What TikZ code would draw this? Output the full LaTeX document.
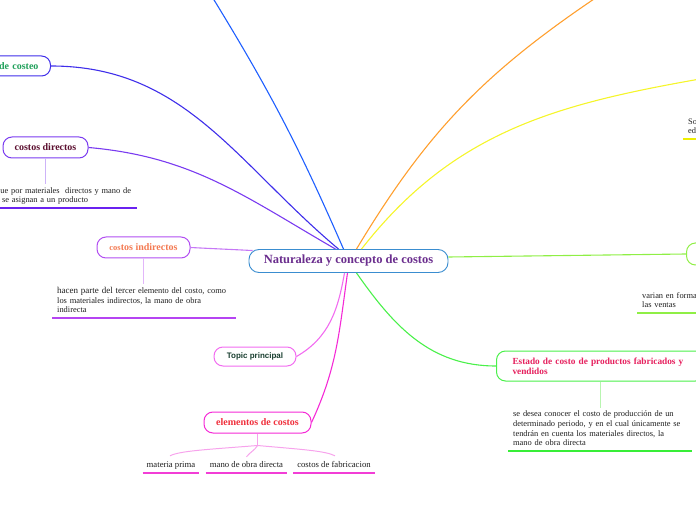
\documentclass[tikz,border=0pt]{standalone}
\usepackage{fontspec}
\setmainfont{Liberation Serif}
\setsansfont{Liberation Sans}
\usetikzlibrary{calc}
\definecolor{rootblue}{HTML}{3A8DD0}
\definecolor{rootpurple}{HTML}{6B2E8E}
\definecolor{ink}{HTML}{1E1E1E}
\definecolor{cbl}{HTML}{3F2EEA}
\definecolor{cgreen}{HTML}{1FA05A}
\definecolor{cblue}{HTML}{1F5FFF}
\definecolor{cvio}{HTML}{7A3BF0}
\definecolor{cmaroon}{HTML}{5C1030}
\definecolor{dstem}{HTML}{CDB3F8}
\definecolor{dline}{HTML}{6A22F0}
\definecolor{cpur}{HTML}{B24EF2}
\definecolor{cpurl}{HTML}{C678F6}
\definecolor{corange}{HTML}{F47A52}
\definecolor{istem}{HTML}{E2B6FA}
\definecolor{iline}{HTML}{B544F2}
\definecolor{cpink}{HTML}{F26CF0}
\definecolor{cdkgreen}{HTML}{173D2E}
\definecolor{cmag}{HTML}{F52AD6}
\definecolor{cred}{HTML}{F0303C}
\definecolor{cpinkl}{HTML}{F7A3EC}
\definecolor{mline}{HTML}{F23ED6}
\definecolor{corg}{HTML}{FF9F2E}
\definecolor{cyel}{HTML}{F5F52A}
\definecolor{yline}{HTML}{EEEE00}
\definecolor{clime}{HTML}{8FEF45}
\definecolor{cgreen2}{HTML}{4AF04A}
\definecolor{ccrimson}{HTML}{E6205E}
\definecolor{estem}{HTML}{B8F5B0}
\definecolor{gline}{HTML}{38EE38}

\begin{document}
\begin{tikzpicture}[x=1pt, y=1pt,
  root/.style={draw=rootblue, line width=0.9pt, rounded corners=10pt, fill=white, minimum width=199pt, minimum height=23pt, inner sep=2pt, text=rootpurple, font=\fontsize{12.5}{14}\selectfont\bfseries},
  sub/.style={draw, line width=1pt, rounded corners=9pt, fill=white, minimum height=21pt, inner sep=2pt, font=\fontsize{10}{10.5}\selectfont\bfseries},
  note/.style={align=left, inner xsep=5pt, inner ysep=2pt, text=ink, font=\fontsize{8.4}{9.7}\selectfont},
  leaf/.style={note, inner xsep=4pt, font=\fontsize{8.7}{9.8}\selectfont},
  branch/.style={line width=1.1pt},
  stem/.style={line width=1pt},
  uline/.style={line width=1.8pt}]
\useasboundingbox (0,0) rectangle (696,520);
\node[root] (root) at (348.5,259) {Naturaleza y concepto de costos};
\node[sub, draw=cbl, text=cgreen, anchor=east, text width=70pt, align=right, inner xsep=12pt, minimum height=20pt] (costeo) at (51,454) {de costeo};
\node[sub, draw=cvio, text=cmaroon, minimum width=85pt] (directos) at (45.5,372.5) {costos directos};
\node[sub, draw=cpur, text=corange, minimum width=93pt] (indirectos) at (143.5,272.5) {{\fontsize{8.5}{10}\selectfont cos}tos indirectos};
\node[sub, draw=cpink, text=cdkgreen, minimum width=82pt, minimum height=19pt, font=\sffamily\fontsize{8}{9}\selectfont\bfseries] (topic) at (255,163.5) {Topic principal};
\node[sub, draw=cmag, text=cred, minimum width=107pt] (elementos) at (257.5,97.5) {elementos de costos};
\node[sub, draw=cgreen2, text=ccrimson, anchor=west, minimum height=30pt, text width=176pt, align=left, inner xsep=16pt, font=\fontsize{9.3}{10.2}\selectfont\bfseries] (estado) at (496,154) {\mbox{Estado de costo de productos fabricados y}\\vendidos};
\node[sub, draw=clime, anchor=west, minimum width=40pt, minimum height=22pt] (variables) at (686,266) {};
\node[note, anchor=south west, text width=136pt] (dnota) at (-9,312) {\strut\mbox{que por materiales~ directos y mano de}\\\hspace*{6pt}se asignan a un producto\strut};
\node[note, anchor=south west, text width=174pt] (inota) at (52,202) {\strut\mbox{{\fontsize{9}{9.7}\selectfont hacen parte del ter}cer elemento del costo, como}\\los materiales indirectos, la mano de obra\\indirecta\strut};
\node[note, anchor=south west, text width=174pt] (enota) at (508,69) {\strut\mbox{se desea conocer el costo de producción de un}\\\mbox{determinado periodo, y en el cual únicamente se}\\tendrán en cuenta los materiales directos, la\\mano de obra directa\strut};
\node[note, anchor=south west, text width=70pt] (vnota) at (637,207) {\strut varian en forma\\las ventas\strut};
\node[note, anchor=south west, text width=30pt] (snota) at (683,381) {\strut So\\ed\strut};
\node[leaf, anchor=south] (materia) at (171,47) {\strut materia prima};
\node[leaf, anchor=south] (mano) at (246.5,47) {\strut mano de obra directa};
\node[leaf, anchor=south] (fabric) at (334,47) {\strut costos de fabricacion};
\coordinate (azul) at (211,525);
\coordinate (naranja) at (597,523);
\coordinate (amarillo) at (700,441);
\draw[branch, cblue] ($(root.north)+(-5,0)$) to[bend right=4] (azul);
\draw[branch, cbl] (costeo.east) to[out=0, in=140] ($(root.north)+(-10,0)$);
\draw[branch, cvio] (directos.east) to[out=-5, in=150] ($(root.north)+(-13,0)$);
\draw[branch, cpurl] (indirectos.east) to[out=-3, in=177] ($(root.north west)+(4,-1.5)$);
\draw[branch, corg] ($(root.north)+(8,0)$) to[out=59, in=214] (naranja);
\draw[branch, cyel] ($(root.north)+(13,0)$) to[out=52, in=190] (amarillo);
\draw[branch, clime] ($(root.east)+(0,4)$) -- (variables.west);
\draw[branch, cgreen2] ($(root.south)+(8,0)$) to[out=-55, in=180] (estado.west);
\draw[branch, cpink] ($(root.south)+(-4,0)$) to[out=260, in=30] (topic.east);
\draw[branch, cmag] ($(root.south)+(-1,0)$) to[out=262, in=65] (elementos.east);
\draw[stem, dstem] (directos.south) -- (directos.south |- dnota.north);
\draw[stem, istem] (indirectos.south) -- (indirectos.south |- inota.north);
\draw[stem, estem] (estado.south) -- (estado.south |- enota.north);
\draw[stem, cpinkl] (elementos.south) -- ++(0,-12) coordinate (split);
\draw[stem, cpinkl] (split) .. controls +(-50,-4) and +(10,5) .. ($(materia.north)+(-1,3)$);
\draw[stem, cpinkl] (split) .. controls +(-3,-5) and +(4,5) .. ($(mano.north)+(0,2)$);
\draw[stem, cpinkl] (split) .. controls +(45,-4) and +(-10,5) .. ($(fabric.north)+(1,3)$);
\draw[uline, dline] (dnota.south west) -- (dnota.south east);
\draw[uline, iline] (inota.south west) -- (inota.south east);
\draw[uline, gline] (enota.south west) -- (enota.south east);
\draw[uline, clime] (vnota.south west) -- (vnota.south east);
\draw[uline, yline] (snota.south west) -- (snota.south east);
\draw[uline, mline] (materia.south west) -- (materia.south east);
\draw[uline, mline] (mano.south west) -- (mano.south east);
\draw[uline, mline] (fabric.south west) -- (fabric.south east);
\end{tikzpicture}
\end{document}
